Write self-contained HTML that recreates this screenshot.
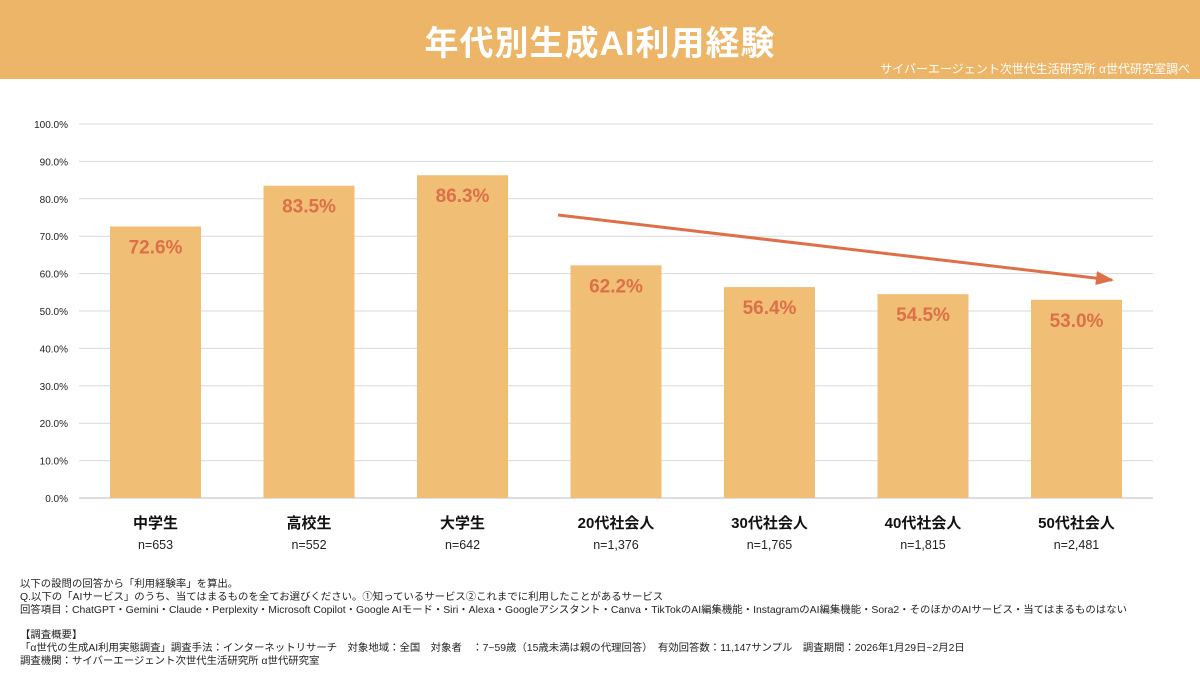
<!DOCTYPE html>
<html><head><meta charset="utf-8"><style>
body{margin:0;width:1200px;height:675px;background:#fff;font-family:"Liberation Sans","Noto Sans CJK JP",sans-serif;overflow:hidden;position:relative}
#hdr{position:absolute;left:0;top:0;width:1200px;height:79px;background:#EDB567}
#title{position:absolute;left:0;top:16px;width:1200px;text-align:center;color:#fff;font-size:34px;font-weight:bold;letter-spacing:1px}
#src{position:absolute;right:10px;top:62px;color:#fff;font-size:12px;line-height:14px}
#notes{position:absolute;left:20px;top:579px;font-size:10.4px;line-height:12.8px;color:#222;white-space:nowrap}
</style></head><body>
<div id="hdr"></div>
<div id="title">年代別生成AI利用経験</div>
<div id="src">サイバーエージェント次世代生活研究所 α世代研究室調べ</div>
<svg id="chart" width="1200" height="675" style="position:absolute;left:0;top:0">
<defs><marker id="ah" markerWidth="18" markerHeight="14" refX="16" refY="7" orient="auto" markerUnits="userSpaceOnUse" viewBox="0 0 18 14"><path d="M0,0 L18,7 L0,14 Z" fill="#DD7048"/></marker></defs>
</svg>
<div id="notes">以下の設問の回答から「利用経験率」を算出。<br>Q.以下の「AIサービス」のうち、当てはまるものを全てお選びください。①知っているサービス②これまでに利用したことがあるサービス<br>回答項目：ChatGPT・Gemini・Claude・Perplexity・Microsoft Copilot・Google AIモード・Siri・Alexa・Googleアシスタント・Canva・TikTokのAI編集機能・InstagramのAI編集機能・Sora2・そのほかのAIサービス・当てはまるものはない<br><br>【調査概要】<br>「α世代の生成AI利用実態調査」調査手法：インターネットリサーチ　対象地域：全国　対象者　：7~59歳（15歳未満は親の代理回答）　有効回答数：11,147サンプル　調査期間：2026年1月29日~2月2日<br>調査機関：サイバーエージェント次世代生活研究所 α世代研究室</div>
<script>
const categories=["中学生","高校生","大学生","20代社会人","30代社会人","40代社会人","50代社会人"];
const samples=["n=653","n=552","n=642","n=1,376","n=1,765","n=1,815","n=2,481"];
const values=[72.6,83.5,86.3,62.2,56.4,54.5,53.0];
const ticks=[0,10,20,30,40,50,60,70,80,90,100];
const NS="http://www.w3.org/2000/svg";
const svg=document.getElementById('chart');
const x0=79,x1=1153,yTop=124,yBot=498;
const y=v=>yBot-(v/100)*(yBot-yTop);
const cx=i=>155.5+i*153.5;
const bw=91;
function mk(t,a){const e=document.createElementNS(NS,t);for(const k in a)e.setAttribute(k,a[k]);svg.appendChild(e);return e;}
ticks.forEach(t=>{
 const l=mk('line',{x1:x0,x2:x1,y1:y(t),y2:y(t),stroke:t===0?'#bbb':'#d9d9d9','stroke-width':1});
 
 
 const tx=mk('text',{x:68,y:y(t)+4,'text-anchor':'end','font-size':10,fill:'#222'});
 tx.textContent=t.toFixed(1)+'%';
 
 
});
values.forEach((v,i)=>{
 const r=mk('rect',{x:cx(i)-bw/2,y:y(v),width:bw,height:yBot-y(v),fill:'#F0BE75'});
 
 
 const t=mk('text',{x:cx(i),y:y(v)+27,'text-anchor':'middle','font-size':19,'font-weight':'bold',fill:'#DD7048'});
 t.textContent=v.toFixed(1)+'%';
 
 
 const c=mk('text',{x:cx(i),y:528,'text-anchor':'middle','font-size':15,'font-weight':'bold',fill:'#111'});
 c.textContent=categories[i];
 
 
 const n=mk('text',{x:cx(i),y:549,'text-anchor':'middle','font-size':12.5,fill:'#222'});
 n.textContent=samples[i];
 
 
});
const a=mk('line',{x1:558,y1:215,x2:1112,y2:280,stroke:'#DD7048','stroke-width':3,'marker-end':'url(#ah)'});


</script>
</body></html>
